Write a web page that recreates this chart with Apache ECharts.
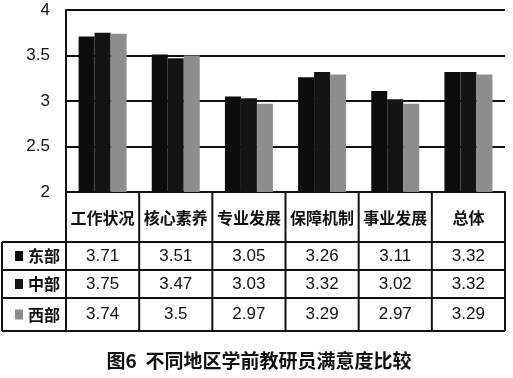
<!DOCTYPE html>
<html>
<head>
<meta charset="utf-8">
<script src="https://cdn.jsdelivr.net/npm/echarts@6/dist/echarts.min.js"></script>
<style>
  html, body { margin: 0; padding: 0; background: #fff; }
  #chart { width: 513px; height: 378px; }
</style>
</head>
<body>
<div id="chart"></div>
<script>
// Data
var categories = ['工作状况', '核心素养', '专业发展', '保障机制', '事业发展', '总体'];
var regions = ['东部', '中部', '西部'];
var eastValues = [3.71, 3.51, 3.05, 3.26, 3.11, 3.32];
var middleValues = [3.75, 3.47, 3.03, 3.32, 3.02, 3.32];
var westValues = [3.74, 3.5, 2.97, 3.29, 2.97, 3.29];
var yTicks = [2, 2.5, 3, 3.5, 4];
var title = '图6  不同地区学前教研员满意度比较';

var seriesValues = [eastValues, middleValues, westValues];
var colors = ['#0c0c0c', '#141414', '#8d8d8d'];

var cjk = '"Noto Sans CJK SC", sans-serif';
var latin = '"Liberation Sans", Arial, sans-serif';

var myChart = echarts.init(document.getElementById('chart'), null, { renderer: 'canvas' });

var series = regions.map(function (name, i) {
  return {
    name: name,
    type: 'bar',
    data: seriesValues[i],
    barWidth: 16,
    barGap: '0%',
    itemStyle: { color: colors[i] },
    silent: true
  };
});

var option = {
  animation: false,
  backgroundColor: '#fff',
  grid: { left: 66, right: 8, top: 10, bottom: 186 },
  xAxis: {
    type: 'category',
    data: categories,
    axisLine: { show: true, lineStyle: { color: '#111', width: 2 } },
    axisTick: { show: false },
    axisLabel: { show: false }
  },
  yAxis: {
    type: 'value',
    min: yTicks[0],
    max: yTicks[yTicks.length - 1],
    interval: 0.5,
    axisLine: { show: true, lineStyle: { color: '#111', width: 2 } },
    axisTick: { show: false },
    axisLabel: {
      margin: 16,
      color: '#111',
      fontSize: 17,
      fontFamily: latin,
      formatter: function (v) { return String(v); }
    },
    splitLine: { show: true, lineStyle: { color: '#111', width: 2 } }
  },
  series: series
};

myChart.setOption(option);

// Data table under the plot, positioned from the category axis
function buildTable() {
  var els = [];
  var lineStyle = { stroke: '#111', lineWidth: 2 };
  var centers = categories.map(function (c, i) {
    return myChart.convertToPixel({ xAxisIndex: 0 }, i);
  });
  var half = (centers[1] - centers[0]) / 2;
  var plotBottom = myChart.convertToPixel({ yAxisIndex: 0 }, yTicks[0]);
  var rowTops = [plotBottom, 242, 270, 298];
  var tableBottom = 331;
  var tableLeft = 2;
  var tableRight = centers[centers.length - 1] + half;

  // vertical lines
  var xs = [centers[0] - half].concat(centers.map(function (c) { return c + half; }));
  xs.forEach(function (x) {
    els.push({ type: 'line', shape: { x1: x, y1: plotBottom, x2: x, y2: tableBottom }, style: lineStyle });
  });
  els.push({ type: 'line', shape: { x1: tableLeft, y1: rowTops[1], x2: tableLeft, y2: tableBottom }, style: lineStyle });

  // horizontal lines
  [rowTops[1], rowTops[2], rowTops[3], tableBottom].forEach(function (y) {
    els.push({ type: 'line', shape: { x1: tableLeft, y1: y, x2: tableRight, y2: y }, style: lineStyle });
  });

  // header texts
  var headerY = (rowTops[0] + rowTops[1]) / 2 + 1;
  categories.forEach(function (c, i) {
    els.push({
      type: 'text', x: centers[i], y: headerY,
      style: { text: c, fill: '#111', font: 'bold 16px ' + cjk, align: 'center', verticalAlign: 'middle' }
    });
  });

  // rows
  regions.forEach(function (r, ri) {
    var top = rowTops[ri + 1];
    var bottom = ri + 2 < rowTops.length ? rowTops[ri + 2] : tableBottom;
    var cy = (top + bottom) / 2;
    els.push({ type: 'rect', shape: { x: 15, y: cy - 5, width: 8, height: 10 }, style: { fill: colors[ri] } });
    els.push({
      type: 'text', x: 28, y: cy,
      style: { text: r, fill: '#111', font: 'bold 16px ' + cjk, align: 'left', verticalAlign: 'middle' }
    });
    seriesValues[ri].forEach(function (v, ci) {
      els.push({
        type: 'text', x: centers[ci], y: cy,
        style: { text: String(v), fill: '#111', font: '17px ' + latin, align: 'center', verticalAlign: 'middle' }
      });
    });
  });

  // caption
  els.push({
    type: 'text', x: 259, y: 361,
    style: { text: title, fill: '#111', font: 'bold 19px ' + cjk, align: 'center', verticalAlign: 'middle' }
  });

  myChart.setOption({ graphic: { elements: els } });
}

buildTable();
</script>
</body>
</html>
